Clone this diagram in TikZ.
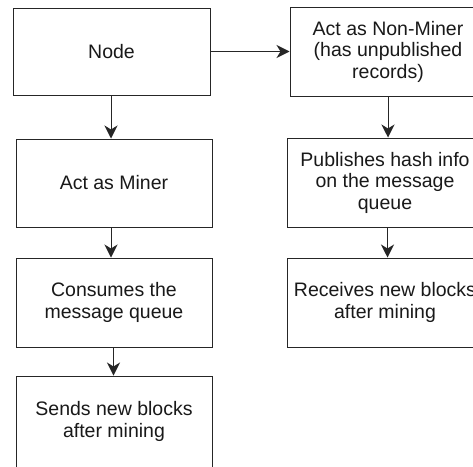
\documentclass[tikz,border=0pt]{standalone}
\usepackage{fontspec}
\setmainfont{Liberation Sans}
\usetikzlibrary{arrows.meta,calc}
\begin{document}
\begin{tikzpicture}[x=1pt,y=-1pt,
  box/.style={draw=black!85, line width=1pt, inner sep=0pt, align=center,
    font=\fontsize{19.5}{21.5}\selectfont, text=black!90},
  arr/.style={line width=1pt, draw=black!85, -{Stealth[length=13pt,width=13pt,inset=4pt]}}]
\useasboundingbox (0,0) rectangle (473,466);
\fill[white] (0,0) rectangle (473,466);
\node[box, minimum width=197pt, minimum height=87pt] (n) at (111.5,51.5) {Node};
\node[box, minimum width=196pt, minimum height=88pt] (m) at (114,183) {Act as Miner};
\node[box, minimum width=196pt, minimum height=89pt] (c) at (114,302.5) {Consumes the\\message queue};
\node[box, minimum width=196pt, minimum height=91pt] (s) at (114,421.5) {Sends new blocks\\after mining};
\node[box, minimum width=196pt, minimum height=89pt] (nm) at (388,51.5) {Act as Non-Miner\\(has unpublished\\records)};
\node[box, minimum width=196pt, minimum height=89pt] (p) at (385,182.5) {Publishes hash info\\on the message\\queue};
\node[box, minimum width=196pt, minimum height=89pt] (r) at (385,302.5) {Receives new blocks\\after mining};
\coordinate (a1) at ($(n.south)+(-0.5,0)$);
\coordinate (a2) at ($(m.south)+(-3,0)$);
\coordinate (a3) at ($(c.south)+(-0.5,0)$);
\coordinate (a4) at (nm.south);
\coordinate (a5) at ($(p.south)+(2.5,0)$);
\draw[arr] (n.east) -- (nm.west);
\draw[arr] (a1) -- (a1 |- m.north);
\draw[arr] (a2) -- (a2 |- c.north);
\draw[arr] (a3) -- (a3 |- s.north);
\draw[arr] (a4) -- (a4 |- p.north);
\draw[arr] (a5) -- (a5 |- r.north);
\end{tikzpicture}
\end{document}
